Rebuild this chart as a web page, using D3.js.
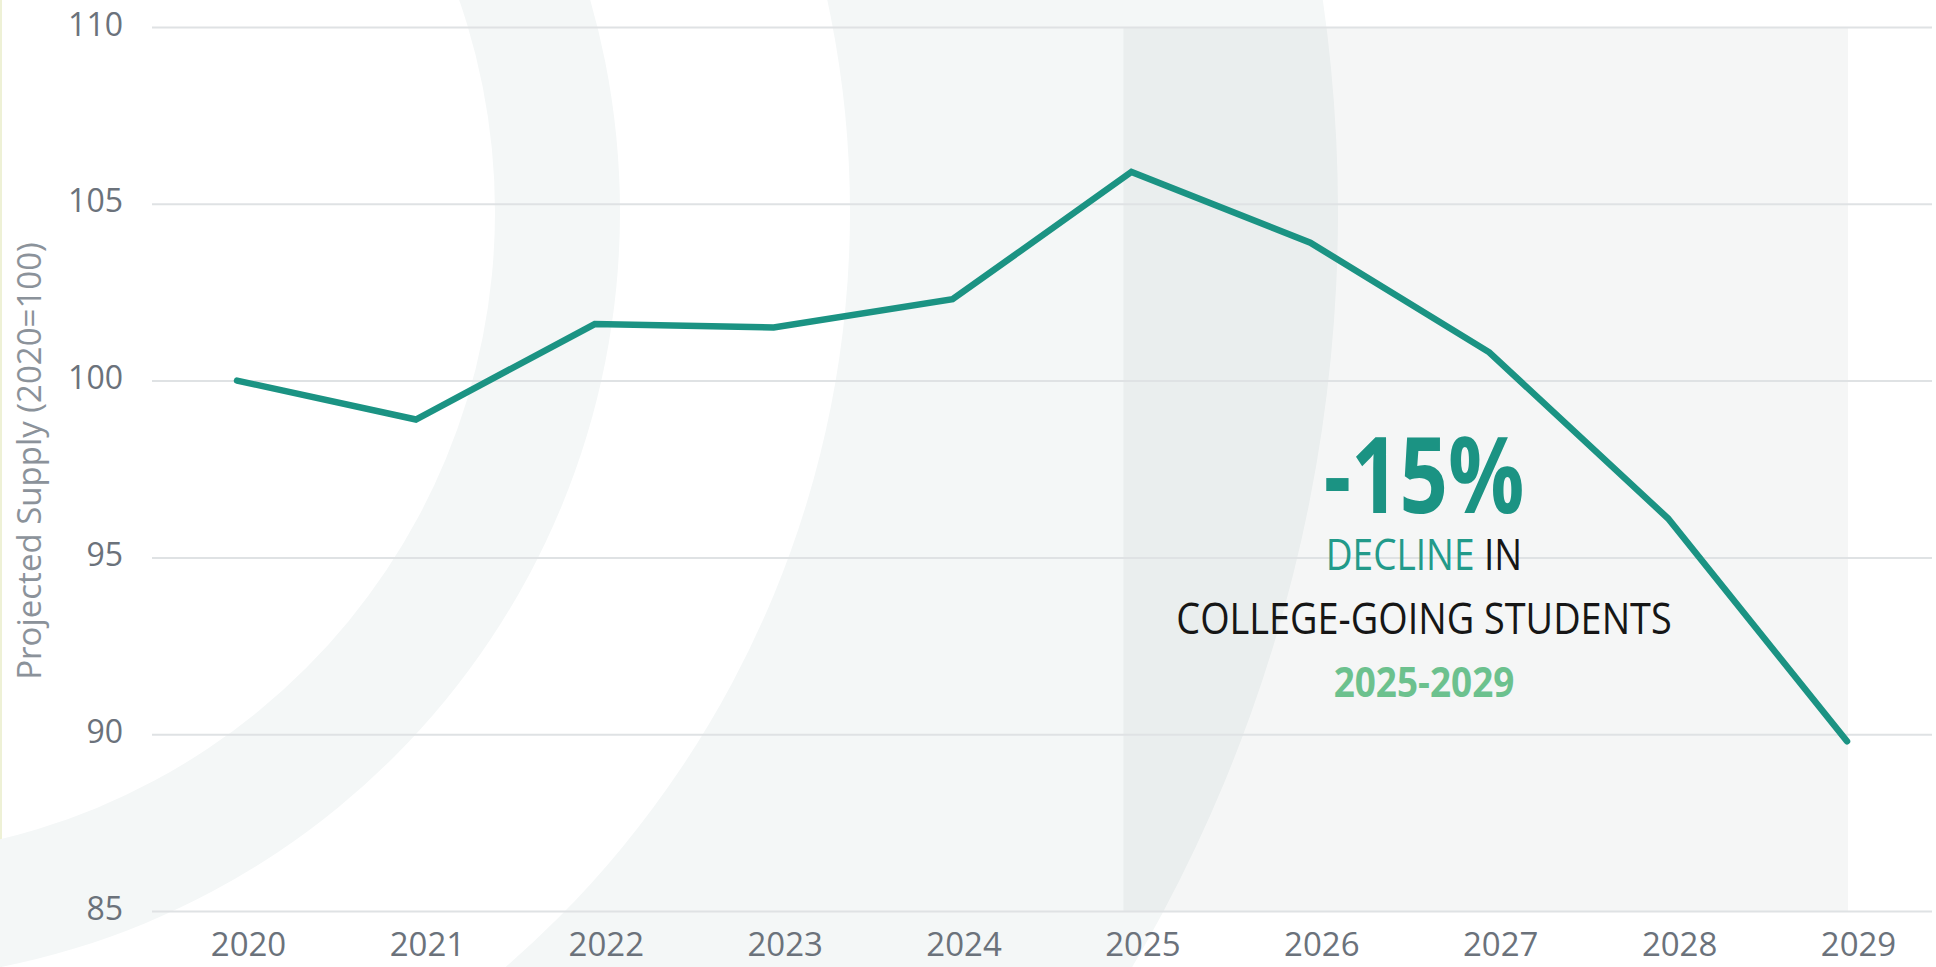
<!DOCTYPE html>
<html>
<head>
<meta charset="utf-8">
<script src="https://cdn.jsdelivr.net/npm/d3@7"></script>
<style>
  html, body { margin: 0; padding: 0; background: #ffffff; overflow: hidden; }
  svg { display: block; font-family: "Open Sans", sans-serif; }
</style>
</head>
<body>
<svg id="chart" width="1936" height="967"></svg>
<script>
// ---- data ----
const years = [2020, 2021, 2022, 2023, 2024, 2025, 2026, 2027, 2028, 2029];
const supply = [100, 98.9, 101.6, 101.5, 102.3, 105.9, 103.9, 100.8, 96.1, 89.8];
const yTicks = [85, 90, 95, 100, 105, 110];
const yAxisTitle = "Projected Supply (2020=100)";
const highlightRange = [2025, 2029];
const annoBig = "-15%";
const annoWord1 = "DECLINE";
const annoWord2 = " IN";
const annoLine2 = "COLLEGE-GOING STUDENTS";
const annoPeriod = "2025-2029";

// ---- layout ----
const W = 1936, H = 967;
const gridLeft = 152, gridRight = 1932;
const svg = d3.select("#chart");

const x = d3.scalePoint().domain(years).range([237, 1847]);
const y = d3.scaleLinear().domain([85, 110]).range([911, 27]);

// background
svg.append("rect").attr("width", W).attr("height", H).attr("fill", "#ffffff");
svg.append("rect").attr("x", 0).attr("y", 0).attr("width", 2).attr("height", H).attr("fill", "#eef1d6");

// decorative rings (concentric crescent bands)
const cx = -150, cy = 212;
function ringPath(r0, r1) {
  const p = d3.path();
  p.moveTo(cx + r1, cy); p.arc(cx, cy, r1, 0, 2 * Math.PI);
  p.moveTo(cx + r0, cy); p.arc(cx, cy, r0, 0, 2 * Math.PI);
  return p.toString();
}
const deco = svg.append("g");
deco.append("path").attr("d", ringPath(645, 770)).attr("fill", "#f4f7f7").attr("fill-rule", "evenodd");
deco.append("path").attr("d", ringPath(1000, 1488)).attr("fill", "#f4f7f7").attr("fill-rule", "evenodd");

// projection shade
svg.append("rect")
  .attr("x", x(highlightRange[0]) - 8)
  .attr("y", y(110))
  .attr("width", x(highlightRange[1]) + 1 - (x(highlightRange[0]) - 8))
  .attr("height", y(85) - y(110))
  .attr("fill", "rgb(110,125,125)")
  .attr("fill-opacity", 0.065);

// y axis with gridlines
const yAxis = svg.append("g")
  .attr("transform", `translate(${gridLeft},0)`)
  .call(d3.axisLeft(y).tickValues(yTicks).tickSize(-(gridRight - gridLeft)).tickPadding(29));
yAxis.select(".domain").remove();
yAxis.selectAll(".tick line").attr("stroke", "#dfe2e4").attr("stroke-width", 2);
yAxis.selectAll(".tick text")
  .attr("dy", "0.25em")
  .attr("fill", "#6b727b")
  .style("font-family", "'Open Sans', sans-serif")
  .style("font-size", "32px");

// x axis labels
const xAxis = svg.append("g")
  .attr("transform", `translate(0,${y(85)})`)
  .call(d3.axisBottom(x).tickSize(0).tickPadding(0));
xAxis.select(".domain").remove();
xAxis.selectAll(".tick text")
  .attr("y", 45)
  .attr("dy", 0)
  .attr("dx", 11)
  .attr("fill", "#6b727b")
  .style("font-family", "'Open Sans', sans-serif")
  .style("font-size", "33px");

// y axis title
svg.append("text")
  .attr("transform", `translate(41,${(y(110) + y(85)) / 2 - 8}) rotate(-90)`)
  .attr("text-anchor", "middle")
  .attr("fill", "#8b929a")
  .style("font-size", "33px")
  .text(yAxisTitle);

// line
const line = d3.line().x((d, i) => x(years[i])).y(d => y(d));
svg.append("path")
  .datum(supply)
  .attr("d", line)
  .attr("fill", "none")
  .attr("stroke", "#1b9383")
  .attr("stroke-width", 6.5)
  .attr("stroke-linejoin", "miter")
  .attr("stroke-linecap", "round");

// annotation
const ax = 1424;
svg.append("text")
  .attr("transform", `translate(${ax},513) scale(0.8,1)`)
  .attr("text-anchor", "middle")
  .attr("fill", "#1b9383")
  .style("font-size", "106px").style("font-weight", 700)
  .text(annoBig);

const t2 = svg.append("text")
  .attr("transform", `translate(${ax},570) scale(0.86,1)`)
  .attr("text-anchor", "middle")
  .style("font-size", "43px");
t2.append("tspan").attr("fill", "#229a8a").text(annoWord1);
t2.append("tspan").attr("fill", "#161616").text(annoWord2);

svg.append("text")
  .attr("transform", `translate(${ax},634) scale(0.86,1)`)
  .attr("text-anchor", "middle")
  .attr("fill", "#161616")
  .style("font-size", "44px")
  .text(annoLine2);

svg.append("text")
  .attr("transform", `translate(${ax},697) scale(0.9,1)`)
  .attr("text-anchor", "middle")
  .attr("fill", "#6cc18e")
  .style("font-size", "41px").style("font-weight", 700)
  .text(annoPeriod);
</script>
</body>
</html>
